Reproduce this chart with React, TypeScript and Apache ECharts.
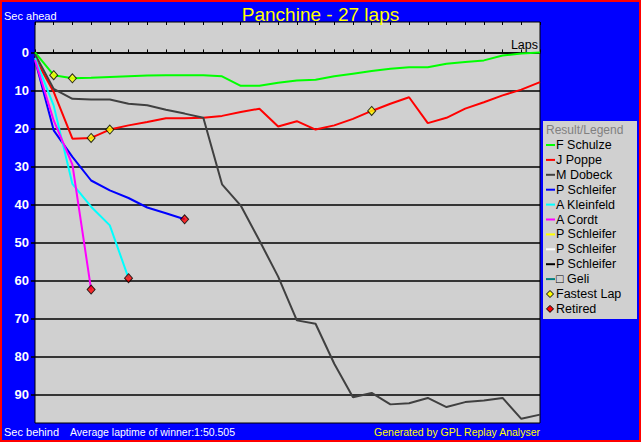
import React, { useEffect, useRef } from 'react';
import * as echarts from 'echarts';

// Gap (seconds behind) per lap, lap 0..n
const schulze = [0, 6.0, 6.8, 6.7, 6.5, 6.3, 6.1, 6.0, 6.0, 6.0, 6.3, 8.8, 8.8, 8.0, 7.4, 7.2, 6.3, 5.6, 4.9, 4.3, 3.9, 3.9, 3.0, 2.5, 2.1, 0.8, 0.3, 0.0];
const poppe = [1.5, 10.4, 22.7, 22.5, 20.3, 19.2, 18.3, 17.3, 17.3, 17.2, 16.7, 15.7, 14.8, 19.5, 18.1, 20.3, 19.2, 17.5, 15.4, 13.5, 11.8, 18.6, 17.2, 14.8, 13.1, 11.3, 9.8, 7.8];
const dobeck = [0.5, 9.6, 12.2, 12.4, 12.4, 13.5, 13.9, 15.1, 16.1, 17.2, 34.7, 40.3, 49.5, 59.0, 70.5, 71.4, 81.9, 90.7, 89.6, 92.6, 92.3, 90.9, 93.3, 92.0, 91.6, 90.9, 96.4, 95.3];
const schleifer = [2.0, 20.5, 27.5, 33.7, 36.3, 38.3, 40.8, 42.3, 43.9];
const kleinfeld = [1.5, 14.0, 34.6, 40.6, 45.5, 59.4];
const cordt = [2.0, 17.9, 29.5, 62.4];

const yTickLabels = [0, 10, 20, 30, 40, 50, 60, 70, 80, 90];

const legendNames = ['F Schulze', 'J Poppe', 'M Dobeck', 'P Schleifer', 'A Kleinfeld', 'A Cordt', 'P Schleifer', 'P Schleifer', 'P Schleifer', '\u25A1 Geli'];
const legendColors = ['#00ff00', '#ff0000', '#404040', '#0000ff', '#00ffff', '#ff00ff', '#ffff00', '#ffffff', '#000000', '#008080'];

const drivers = [
  { name: 'F Schulze', color: '#00ff00', values: schulze },
  { name: 'J Poppe', color: '#ff0000', values: poppe },
  { name: 'M Dobeck', color: '#404040', values: dobeck },
  { name: 'P Schleifer', color: '#0000ff', values: schleifer },
  { name: 'A Kleinfeld', color: '#00ffff', values: kleinfeld },
  { name: 'A Cordt', color: '#ff00ff', values: cordt },
];

// [driver index, lap]
const fastestLaps: [number, number][] = [[0, 1], [0, 2], [1, 3], [1, 4], [1, 18]];
const retiredAt: [number, number][] = [[3, 8], [4, 5], [5, 3]];

const FONT = '"Liberation Sans", Arial, sans-serif';

export default function App() {
  const ref = useRef<HTMLDivElement>(null);
  useEffect(() => {
    if (!ref.current) return;
    const chart = echarts.init(ref.current, undefined, { renderer: 'svg' });

    const lineSeries = drivers.map((d) => ({
      type: 'line',
      name: d.name,
      data: d.values.map((v, i) => [i, v]),
      showSymbol: false,
      symbol: 'none',
      lineStyle: { color: d.color, width: 2 },
      itemStyle: { color: d.color },
      z: 3,
    }));

    const legendX = 543;
    const legendTop = 121;
    const rowY0 = 145;
    const rowStep = 14.9;
    const legendGraphics: any[] = [
      { type: 'rect', shape: { x: legendX, y: legendTop, width: 94, height: 198 }, style: { fill: '#d0d0d0' }, z: 10 },
      { type: 'text', x: 546, y: 130, style: { text: 'Result/Legend', fill: '#808080', font: `12px ${FONT}`, textVerticalAlign: 'middle' }, z: 11 },
    ];
    legendNames.forEach((n, i) => {
      const y = rowY0 + rowStep * i;
      legendGraphics.push({ type: 'line', shape: { x1: 546, y1: y, x2: 555, y2: y }, style: { stroke: legendColors[i], lineWidth: 2 }, z: 11 });
      legendGraphics.push({ type: 'text', x: 556, y, style: { text: n, fill: '#000', font: `12.5px ${FONT}`, textVerticalAlign: 'middle' }, z: 11 });
    });
    const extra = [
      { name: 'Fastest Lap', color: '#ffff00' },
      { name: 'Retired', color: '#ff0000' },
    ];
    extra.forEach((e, k) => {
      const y = rowY0 + rowStep * (legendNames.length + k);
      legendGraphics.push({ type: 'polygon', shape: { points: [[550, y - 3.5], [553.5, y], [550, y + 3.5], [546.5, y]] }, style: { fill: e.color, stroke: '#000', lineWidth: 1 }, z: 11 });
      legendGraphics.push({ type: 'text', x: 556, y, style: { text: e.name, fill: '#000', font: `12.5px ${FONT}`, textVerticalAlign: 'middle' }, z: 11 });
    });

    const option: any = {
      animation: false,
      backgroundColor: '#0000ff',
      title: {
        text: 'Panchine - 27 laps',
        left: 'center',
        top: 0,
        textStyle: { color: '#ffff00', fontSize: 19, fontWeight: 'normal', fontFamily: FONT },
      },
      grid: {
        left: 35, right: 101, top: 22, bottom: 19,
        show: true, backgroundColor: '#d0d0d0', borderColor: '#000', borderWidth: 1,
      },
      xAxis: [
        {
          type: 'value', min: 0, max: 27, interval: 1, position: 'top',
          axisLine: { show: true, onZero: true, lineStyle: { color: '#000', width: 1.5 } },
          axisTick: { show: true, length: 3, lineStyle: { color: '#000', width: 1 } },
          axisLabel: { show: false },
          splitLine: { show: false },
        },
        {
          type: 'value', min: 0, max: 27, interval: 1, position: 'top',
          axisLine: { show: false, onZero: true },
          axisTick: { show: true, inside: true, length: 3, lineStyle: { color: '#000', width: 1 } },
          axisLabel: { show: false },
          splitLine: { show: false },
        },
      ],
      yAxis: {
        type: 'value', inverse: true, min: -8, max: 97.5,
        splitNumber: 10, minInterval: 10, maxInterval: 10,
        axisLine: { show: false },
        axisTick: { show: true, length: 4, customValues: yTickLabels, lineStyle: { color: '#000', width: 1.5 } },
        axisLabel: {
          color: '#ffffff', fontWeight: 'bold', fontSize: 13, fontFamily: FONT, margin: 6,
          customValues: yTickLabels,
          formatter: (v: number) => (yTickLabels.includes(v) ? String(v) : ''),
        },
        splitLine: { show: true, lineStyle: { color: '#000', width: 1.5 } },
      },
      series: [
        ...lineSeries,
        {
          type: 'scatter', name: 'Fastest Lap', symbol: 'diamond', symbolSize: [8, 9],
          data: fastestLaps.map(([d, lap]) => [lap, drivers[d].values[lap]]),
          itemStyle: { color: '#ffff00', borderColor: '#000', borderWidth: 1 },
          z: 5,
        },
        {
          type: 'scatter', name: 'Retired', symbol: 'diamond', symbolSize: [8, 9],
          data: retiredAt.map(([d, lap]) => [lap, drivers[d].values[lap]]),
          itemStyle: { color: '#ff0000', borderColor: '#000', borderWidth: 1 },
          z: 5,
        },
      ],
      graphic: [
        { type: 'rect', shape: { x: 0, y: 0, width: 641, height: 442 }, style: { fill: 'none', stroke: '#ff0000', lineWidth: 4 }, z: 20 },
        { type: 'text', x: 4, y: 16, style: { text: 'Sec ahead', fill: '#ffffff', font: `11px ${FONT}`, textVerticalAlign: 'middle' }, z: 11 },
        { type: 'text', x: 538, y: 45, style: { text: 'Laps', fill: '#000000', font: `12.5px ${FONT}`, textAlign: 'right', textVerticalAlign: 'middle' }, z: 11 },
        { type: 'text', x: 4, y: 432, style: { text: 'Sec behind', fill: '#ffffff', font: `11px ${FONT}`, textVerticalAlign: 'middle' }, z: 11 },
        { type: 'text', x: 70, y: 432, style: { text: 'Average laptime of winner:1:50.505', fill: '#ffffff', font: `10.5px ${FONT}`, textVerticalAlign: 'middle' }, z: 11 },
        { type: 'text', x: 540, y: 432, style: { text: 'Generated by GPL Replay Analyser', fill: '#ffff00', font: `10.5px ${FONT}`, textAlign: 'right', textVerticalAlign: 'middle' }, z: 11 },
        ...legendGraphics,
      ],
    };
    chart.setOption(option);
    return () => chart.dispose();
  }, []);
  return <div ref={ref} style={{ position: 'fixed', left: 0, top: 0, width: 641, height: 442 }} />;
}
